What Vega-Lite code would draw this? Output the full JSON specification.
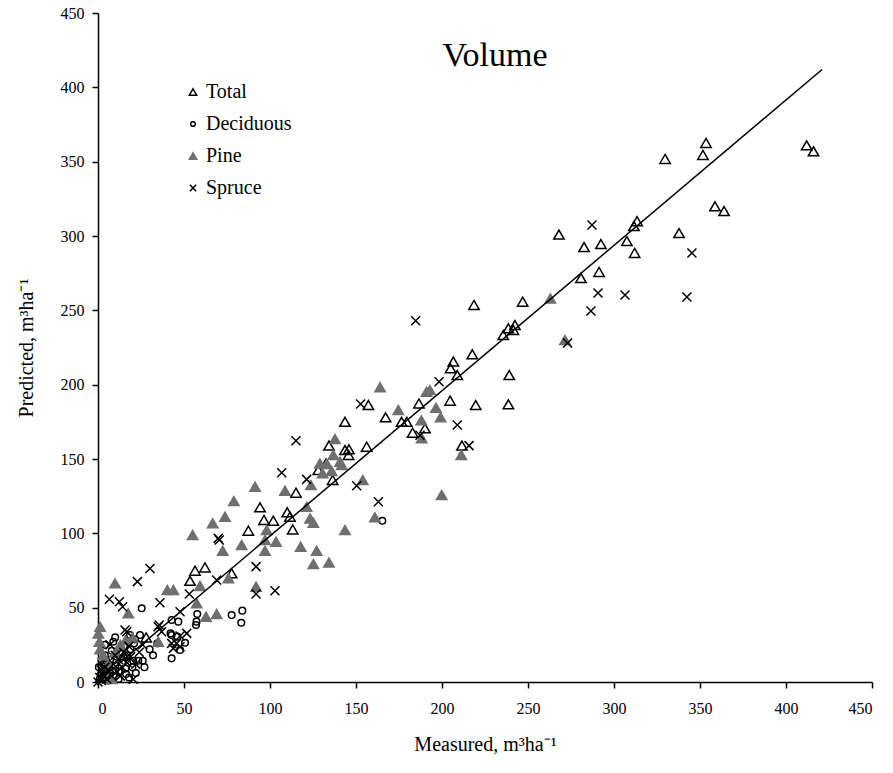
{
  "$schema": "https://vega.github.io/schema/vega-lite/v6.json",
  "width": 774,
  "height": 669,
  "autosize": {"type": "none"},
  "padding": {"left": 98, "top": 13, "right": 21, "bottom": 91},
  "background": "white",
  "title": {
    "text": "Volume",
    "font": "Liberation Serif",
    "fontSize": 34,
    "fontWeight": "normal",
    "color": "black",
    "anchor": "middle",
    "frame": "group",
    "offset": -68,
    "dx": 10
  },
  "config": {
    "view": {"stroke": null},
    "axis": {
      "grid": false,
      "labelFont": "Liberation Serif",
      "labelFontSize": 16,
      "labelColor": "black",
      "titleFont": "Liberation Serif",
      "titleFontSize": 20,
      "titleFontWeight": "normal",
      "titleColor": "black",
      "domainColor": "black",
      "domainWidth": 1.5,
      "tickColor": "black",
      "tickWidth": 1.5,
      "tickSize": 6
    },
    "legend": {
      "labelFont": "Liberation Serif",
      "labelFontSize": 20,
      "labelColor": "black"
    }
  },
  "layer": [
    {
      "data": {
        "values": [
          {"series": "Total", "measured": 412, "predicted": 361},
          {"series": "Total", "measured": 416, "predicted": 357},
          {"series": "Total", "measured": 353.5, "predicted": 362.6},
          {"series": "Total", "measured": 351.7, "predicted": 354.5},
          {"series": "Total", "measured": 329.7, "predicted": 351.8},
          {"series": "Total", "measured": 358.7, "predicted": 320},
          {"series": "Total", "measured": 364, "predicted": 316.8},
          {"series": "Total", "measured": 337.8, "predicted": 302},
          {"series": "Total", "measured": 313.4, "predicted": 310},
          {"series": "Total", "measured": 311.6, "predicted": 306.7},
          {"series": "Total", "measured": 307.5, "predicted": 296.6},
          {"series": "Total", "measured": 312, "predicted": 288.6},
          {"series": "Total", "measured": 292.4, "predicted": 294.6},
          {"series": "Total", "measured": 282.6, "predicted": 292.6},
          {"series": "Total", "measured": 291.3, "predicted": 275.8},
          {"series": "Total", "measured": 280.8, "predicted": 271.7},
          {"series": "Total", "measured": 268, "predicted": 301},
          {"series": "Total", "measured": 218.6, "predicted": 253.6},
          {"series": "Total", "measured": 246.9, "predicted": 255.8},
          {"series": "Total", "measured": 238.6, "predicted": 237.9},
          {"series": "Total", "measured": 242.4, "predicted": 240.1},
          {"series": "Total", "measured": 241.5, "predicted": 236.8},
          {"series": "Total", "measured": 235.6, "predicted": 233.4},
          {"series": "Total", "measured": 217.6, "predicted": 220.4},
          {"series": "Total", "measured": 206.6, "predicted": 215.5},
          {"series": "Total", "measured": 205, "predicted": 211},
          {"series": "Total", "measured": 208.9, "predicted": 206.5},
          {"series": "Total", "measured": 239.1, "predicted": 206.5},
          {"series": "Total", "measured": 204.7, "predicted": 189.2},
          {"series": "Total", "measured": 219.6, "predicted": 186.3},
          {"series": "Total", "measured": 238.6, "predicted": 186.8},
          {"series": "Total", "measured": 186.6, "predicted": 187.4},
          {"series": "Total", "measured": 176.5, "predicted": 175},
          {"series": "Total", "measured": 179.5, "predicted": 175},
          {"series": "Total", "measured": 182.9, "predicted": 167.7},
          {"series": "Total", "measured": 190.1, "predicted": 170.6},
          {"series": "Total", "measured": 211.6, "predicted": 159},
          {"series": "Total", "measured": 167.2, "predicted": 178},
          {"series": "Total", "measured": 157.2, "predicted": 186.3},
          {"series": "Total", "measured": 143.6, "predicted": 175},
          {"series": "Total", "measured": 134.3, "predicted": 159},
          {"series": "Total", "measured": 143.6, "predicted": 156},
          {"series": "Total", "measured": 145.9, "predicted": 156.5},
          {"series": "Total", "measured": 145.7, "predicted": 152.7},
          {"series": "Total", "measured": 156.2, "predicted": 158.3},
          {"series": "Total", "measured": 132.6, "predicted": 147},
          {"series": "Total", "measured": 128.1, "predicted": 142.6},
          {"series": "Total", "measured": 136.4, "predicted": 135.9},
          {"series": "Total", "measured": 115.1, "predicted": 127.3},
          {"series": "Total", "measured": 94.2, "predicted": 117.5},
          {"series": "Total", "measured": 96.5, "predicted": 109},
          {"series": "Total", "measured": 101.9, "predicted": 108.5},
          {"series": "Total", "measured": 110, "predicted": 114.1},
          {"series": "Total", "measured": 111.6, "predicted": 111.2},
          {"series": "Total", "measured": 113.2, "predicted": 102.6},
          {"series": "Total", "measured": 87.4, "predicted": 101.8},
          {"series": "Total", "measured": 53.5, "predicted": 68.1},
          {"series": "Total", "measured": 56.4, "predicted": 74.9},
          {"series": "Total", "measured": 62.2, "predicted": 77.1},
          {"series": "Total", "measured": 77.7, "predicted": 73.1},
          {"series": "Total", "measured": 5, "predicted": 8},
          {"series": "Total", "measured": 15, "predicted": 18},
          {"series": "Total", "measured": 28, "predicted": 30},

          {"series": "Deciduous", "measured": 165.3, "predicted": 108.5},
          {"series": "Deciduous", "measured": 25.4, "predicted": 49.6},
          {"series": "Deciduous", "measured": 77.7, "predicted": 45},
          {"series": "Deciduous", "measured": 83.9, "predicted": 48},
          {"series": "Deciduous", "measured": 83.3, "predicted": 39.9},
          {"series": "Deciduous", "measured": 46.7, "predicted": 40.6},
          {"series": "Deciduous", "measured": 42.8, "predicted": 41.7},
          {"series": "Deciduous", "measured": 57.7, "predicted": 45.7},
          {"series": "Deciduous", "measured": 57, "predicted": 38.3},
          {"series": "Deciduous", "measured": 42.8, "predicted": 31.6},
          {"series": "Deciduous", "measured": 50.6, "predicted": 26.4},
          {"series": "Deciduous", "measured": 34.5, "predicted": 26},
          {"series": "Deciduous", "measured": 42.8, "predicted": 15.9},
          {"series": "Deciduous", "measured": 20.5, "predicted": 14.3},
          {"series": "Deciduous", "measured": 23.4, "predicted": 14.3},
          {"series": "Deciduous", "measured": 26, "predicted": 14.3},
          {"series": "Deciduous", "measured": 16.3, "predicted": 5.4},
          {"series": "Deciduous", "measured": 8.9, "predicted": 27.1},
          {"series": "Deciduous", "measured": 18.6, "predicted": 31.6},
          {"series": "Deciduous", "measured": 21.5, "predicted": 28.7},
          {"series": "Deciduous", "measured": 24.4, "predicted": 31.6},
          {"series": "Deciduous", "measured": 42.2, "predicted": 32.7},
          {"series": "Deciduous", "measured": 46.1, "predicted": 30.5},
          {"series": "Deciduous", "measured": 47.7, "predicted": 21.5},
          {"series": "Deciduous", "measured": 57.3, "predicted": 40.6},
          {"series": "Deciduous", "measured": 1, "predicted": 2},
          {"series": "Deciduous", "measured": 2, "predicted": 6},
          {"series": "Deciduous", "measured": 3, "predicted": 12},
          {"series": "Deciduous", "measured": 4, "predicted": 18},
          {"series": "Deciduous", "measured": 5, "predicted": 3},
          {"series": "Deciduous", "measured": 6, "predicted": 9},
          {"series": "Deciduous", "measured": 7, "predicted": 15},
          {"series": "Deciduous", "measured": 8, "predicted": 21},
          {"series": "Deciduous", "measured": 9, "predicted": 4},
          {"series": "Deciduous", "measured": 10, "predicted": 11},
          {"series": "Deciduous", "measured": 11, "predicted": 17},
          {"series": "Deciduous", "measured": 12, "predicted": 7},
          {"series": "Deciduous", "measured": 13, "predicted": 20},
          {"series": "Deciduous", "measured": 14, "predicted": 13},
          {"series": "Deciduous", "measured": 15, "predicted": 24},
          {"series": "Deciduous", "measured": 16, "predicted": 9},
          {"series": "Deciduous", "measured": 17, "predicted": 18},
          {"series": "Deciduous", "measured": 18, "predicted": 3},
          {"series": "Deciduous", "measured": 19, "predicted": 22},
          {"series": "Deciduous", "measured": 20, "predicted": 10},
          {"series": "Deciduous", "measured": 21, "predicted": 26},
          {"series": "Deciduous", "measured": 22, "predicted": 6},
          {"series": "Deciduous", "measured": 4, "predicted": 25},
          {"series": "Deciduous", "measured": 2, "predicted": 15},
          {"series": "Deciduous", "measured": 10, "predicted": 30},
          {"series": "Deciduous", "measured": 0.5, "predicted": 10},
          {"series": "Deciduous", "measured": 6, "predicted": 1},
          {"series": "Deciduous", "measured": 30, "predicted": 22},
          {"series": "Deciduous", "measured": 32, "predicted": 18},
          {"series": "Deciduous", "measured": 27, "predicted": 10},
          {"series": "Deciduous", "measured": 3, "predicted": 4},
          {"series": "Deciduous", "measured": 7, "predicted": 6},
          {"series": "Deciduous", "measured": 12, "predicted": 2},
          {"series": "Deciduous", "measured": 14, "predicted": 19},
          {"series": "Deciduous", "measured": 5, "predicted": 14},

          {"series": "Pine", "measured": 271.5, "predicted": 230},
          {"series": "Pine", "measured": 263, "predicted": 258},
          {"series": "Pine", "measured": 193, "predicted": 196.4},
          {"series": "Pine", "measured": 191, "predicted": 195.3},
          {"series": "Pine", "measured": 196.5, "predicted": 184.5},
          {"series": "Pine", "measured": 199.2, "predicted": 178},
          {"series": "Pine", "measured": 174.6, "predicted": 183},
          {"series": "Pine", "measured": 188, "predicted": 176},
          {"series": "Pine", "measured": 188.2, "predicted": 164},
          {"series": "Pine", "measured": 211.2, "predicted": 152.7},
          {"series": "Pine", "measured": 199.8, "predicted": 125.8},
          {"series": "Pine", "measured": 164, "predicted": 198.2},
          {"series": "Pine", "measured": 137.8, "predicted": 163.4},
          {"series": "Pine", "measured": 136.8, "predicted": 152.7},
          {"series": "Pine", "measured": 129, "predicted": 147},
          {"series": "Pine", "measured": 133, "predicted": 146.6},
          {"series": "Pine", "measured": 140.7, "predicted": 148.2},
          {"series": "Pine", "measured": 130.6, "predicted": 140.4},
          {"series": "Pine", "measured": 135.8, "predicted": 142},
          {"series": "Pine", "measured": 141.7, "predicted": 146},
          {"series": "Pine", "measured": 123.8, "predicted": 132.5},
          {"series": "Pine", "measured": 91.3, "predicted": 131.4},
          {"series": "Pine", "measured": 108.7, "predicted": 128.7},
          {"series": "Pine", "measured": 153.9, "predicted": 135.9},
          {"series": "Pine", "measured": 121.3, "predicted": 117.9},
          {"series": "Pine", "measured": 123.3, "predicted": 110},
          {"series": "Pine", "measured": 125.2, "predicted": 107.2},
          {"series": "Pine", "measured": 98.1, "predicted": 102.2},
          {"series": "Pine", "measured": 97.1, "predicted": 95.5},
          {"series": "Pine", "measured": 103.5, "predicted": 94.4},
          {"series": "Pine", "measured": 97.1, "predicted": 88.3},
          {"series": "Pine", "measured": 117.8, "predicted": 91},
          {"series": "Pine", "measured": 127.1, "predicted": 88.3},
          {"series": "Pine", "measured": 125.2, "predicted": 79.4},
          {"series": "Pine", "measured": 134.3, "predicted": 80.3},
          {"series": "Pine", "measured": 143.6, "predicted": 102.2},
          {"series": "Pine", "measured": 161, "predicted": 110.8},
          {"series": "Pine", "measured": 79, "predicted": 121.7},
          {"series": "Pine", "measured": 73.8, "predicted": 111.2},
          {"series": "Pine", "measured": 66.7, "predicted": 106.7},
          {"series": "Pine", "measured": 55, "predicted": 98.9},
          {"series": "Pine", "measured": 72.5, "predicted": 88.3},
          {"series": "Pine", "measured": 83.5, "predicted": 92.2},
          {"series": "Pine", "measured": 91.9, "predicted": 64.1},
          {"series": "Pine", "measured": 9.9, "predicted": 66.4},
          {"series": "Pine", "measured": 17.6, "predicted": 46.2},
          {"series": "Pine", "measured": 40.3, "predicted": 61.9},
          {"series": "Pine", "measured": 43.8, "predicted": 61.9},
          {"series": "Pine", "measured": 59.3, "predicted": 64.6},
          {"series": "Pine", "measured": 57.4, "predicted": 52.9},
          {"series": "Pine", "measured": 75.8, "predicted": 69.8},
          {"series": "Pine", "measured": 69, "predicted": 45.7},
          {"series": "Pine", "measured": 62.8, "predicted": 43.9},
          {"series": "Pine", "measured": 35, "predicted": 27.1},
          {"series": "Pine", "measured": 1.2, "predicted": 37.2},
          {"series": "Pine", "measured": 0.2, "predicted": 32.7},
          {"series": "Pine", "measured": 0.8, "predicted": 27.1},
          {"series": "Pine", "measured": 1.2, "predicted": 22},
          {"series": "Pine", "measured": 3, "predicted": 18},
          {"series": "Pine", "measured": 6, "predicted": 12},
          {"series": "Pine", "measured": 10, "predicted": 20},
          {"series": "Pine", "measured": 13, "predicted": 25},
          {"series": "Pine", "measured": 16, "predicted": 28},
          {"series": "Pine", "measured": 20, "predicted": 30},
          {"series": "Pine", "measured": 5, "predicted": 5},
          {"series": "Pine", "measured": 8, "predicted": 2},

          {"series": "Spruce", "measured": 287.2, "predicted": 307.4},
          {"series": "Spruce", "measured": 345.3, "predicted": 288.6},
          {"series": "Spruce", "measured": 290.7, "predicted": 261.6},
          {"series": "Spruce", "measured": 306.4, "predicted": 260.3},
          {"series": "Spruce", "measured": 342.4, "predicted": 259},
          {"series": "Spruce", "measured": 286.6, "predicted": 249.5},
          {"series": "Spruce", "measured": 184.7, "predicted": 243},
          {"series": "Spruce", "measured": 273, "predicted": 228},
          {"series": "Spruce", "measured": 198.3, "predicted": 202},
          {"series": "Spruce", "measured": 208.9, "predicted": 172.9},
          {"series": "Spruce", "measured": 187.2, "predicted": 166},
          {"series": "Spruce", "measured": 215.7, "predicted": 159},
          {"series": "Spruce", "measured": 152.7, "predicted": 187},
          {"series": "Spruce", "measured": 115.1, "predicted": 162.3},
          {"series": "Spruce", "measured": 106.8, "predicted": 140.8},
          {"series": "Spruce", "measured": 121.3, "predicted": 136.3},
          {"series": "Spruce", "measured": 150.4, "predicted": 132},
          {"series": "Spruce", "measured": 163, "predicted": 121.3},
          {"series": "Spruce", "measured": 91.9, "predicted": 77.6},
          {"series": "Spruce", "measured": 91.9, "predicted": 59.2},
          {"series": "Spruce", "measured": 102.9, "predicted": 61.4},
          {"series": "Spruce", "measured": 30.2, "predicted": 76.4},
          {"series": "Spruce", "measured": 22.9, "predicted": 67.5},
          {"series": "Spruce", "measured": 6.6, "predicted": 55.6},
          {"series": "Spruce", "measured": 12.4, "predicted": 54},
          {"series": "Spruce", "measured": 14.3, "predicted": 50.6},
          {"series": "Spruce", "measured": 36, "predicted": 53.3},
          {"series": "Spruce", "measured": 53.1, "predicted": 59.2},
          {"series": "Spruce", "measured": 69, "predicted": 68.6},
          {"series": "Spruce", "measured": 69.9, "predicted": 96.6},
          {"series": "Spruce", "measured": 70.5, "predicted": 95.5},
          {"series": "Spruce", "measured": 47.7, "predicted": 47.3},
          {"series": "Spruce", "measured": 35.6, "predicted": 38.3},
          {"series": "Spruce", "measured": 42.8, "predicted": 26},
          {"series": "Spruce", "measured": 47.7, "predicted": 23.7},
          {"series": "Spruce", "measured": 51.6, "predicted": 32.7},
          {"series": "Spruce", "measured": 20.5, "predicted": 1.8},
          {"series": "Spruce", "measured": 16.7, "predicted": 33.8},
          {"series": "Spruce", "measured": 15.7, "predicted": 35},
          {"series": "Spruce", "measured": 47.7, "predicted": 30.9},
          {"series": "Spruce", "measured": 35, "predicted": 37.2},
          {"series": "Spruce", "measured": 37, "predicted": 33.8},
          {"series": "Spruce", "measured": 45.7, "predicted": 26},
          {"series": "Spruce", "measured": 43.8, "predicted": 22.6},
          {"series": "Spruce", "measured": 0, "predicted": 0},
          {"series": "Spruce", "measured": 1, "predicted": 3},
          {"series": "Spruce", "measured": 2, "predicted": 1},
          {"series": "Spruce", "measured": 3, "predicted": 5},
          {"series": "Spruce", "measured": 5, "predicted": 2},
          {"series": "Spruce", "measured": 6, "predicted": 8},
          {"series": "Spruce", "measured": 8, "predicted": 4},
          {"series": "Spruce", "measured": 9, "predicted": 12},
          {"series": "Spruce", "measured": 11, "predicted": 7},
          {"series": "Spruce", "measured": 12, "predicted": 15},
          {"series": "Spruce", "measured": 14, "predicted": 10},
          {"series": "Spruce", "measured": 15, "predicted": 20},
          {"series": "Spruce", "measured": 17, "predicted": 13},
          {"series": "Spruce", "measured": 19, "predicted": 17},
          {"series": "Spruce", "measured": 10, "predicted": 18},
          {"series": "Spruce", "measured": 4, "predicted": 10},
          {"series": "Spruce", "measured": 22, "predicted": 12},
          {"series": "Spruce", "measured": 24, "predicted": 20},
          {"series": "Spruce", "measured": 26, "predicted": 25},
          {"series": "Spruce", "measured": 7, "predicted": 25},
          {"series": "Spruce", "measured": 2, "predicted": 8},
          {"series": "Spruce", "measured": 13, "predicted": 4},
          {"series": "Spruce", "measured": 18, "predicted": 24}
        ]
      },
      "mark": {"type": "point", "opacity": 1, "strokeWidth": 1.5, "size": 100},
      "encoding": {
        "x": {
          "field": "measured", "type": "quantitative",
          "scale": {"domain": [0, 450], "nice": false},
          "axis": {"values": [0, 50, 100, 150, 200, 250, 300, 350, 400, 450], "title": "Measured, m³ha⁻¹", "labelPadding": 12, "titlePadding": 18}
        },
        "y": {
          "field": "predicted", "type": "quantitative",
          "scale": {"domain": [0, 450], "nice": false},
          "axis": {"values": [0, 50, 100, 150, 200, 250, 300, 350, 400, 450], "title": "Predicted, m³ha⁻¹", "labelPadding": 8, "titlePadding": 24}
        },
        "shape": {
          "field": "series", "type": "nominal",
          "scale": {
            "domain": ["Total", "Deciduous", "Pine", "Spruce"],
            "range": [
              "M0,-0.9L1.04,0.9L-1.04,0.9Z",
              "M0,-0.66A0.66,0.66 0 1,1 0,0.66A0.66,0.66 0 1,1 0,-0.66Z",
              "M0,-0.9L1.04,0.9L-1.04,0.9Z",
              "M-0.9,-0.9L0.9,0.9M-0.9,0.9L0.9,-0.9"
            ]
          },
          "legend": {"title": null, "orient": "none", "legendX": 85, "legendY": 69, "symbolSize": 50, "rowPadding": 12, "labelOffset": 3, "symbolStrokeWidth": 1.5}
        },
        "fill": {
          "field": "series", "type": "nominal",
          "scale": {"domain": ["Total", "Deciduous", "Pine", "Spruce"], "range": ["transparent", "transparent", "#6f6f6f", "transparent"]},
          "legend": {"title": null, "orient": "none", "legendX": 85, "legendY": 69, "symbolSize": 50, "rowPadding": 12, "labelOffset": 3, "symbolStrokeWidth": 1.5}
        },
        "stroke": {
          "field": "series", "type": "nominal",
          "scale": {"domain": ["Total", "Deciduous", "Pine", "Spruce"], "range": ["black", "black", "#6f6f6f", "black"]},
          "legend": {"title": null, "orient": "none", "legendX": 85, "legendY": 69, "symbolSize": 50, "rowPadding": 12, "labelOffset": 3, "symbolStrokeWidth": 1.5}
        }
      }
    },
    {
      "data": {"values": [{"measured": 0, "predicted": 0.4}, {"measured": 421, "predicted": 412}]},
      "mark": {"type": "line", "color": "black", "strokeWidth": 1.5},
      "encoding": {
        "x": {"field": "measured", "type": "quantitative"},
        "y": {"field": "predicted", "type": "quantitative"}
      }
    }
  ]
}
